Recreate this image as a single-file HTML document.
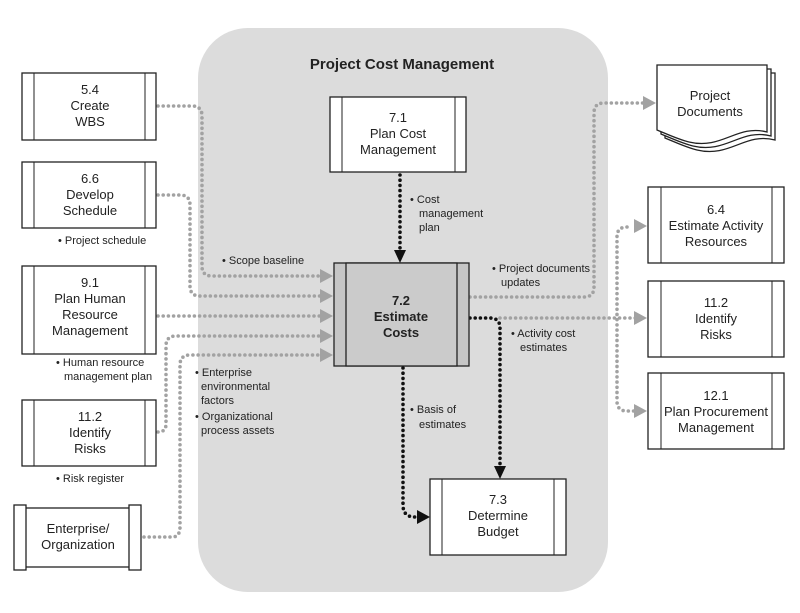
<!DOCTYPE html>
<html><head><meta charset="utf-8"><style>
html,body{margin:0;padding:0;background:#fff;}
svg{display:block;}
text{font-family:"Liberation Sans",Arial,sans-serif;fill:#222;}
.t{font-size:13px;text-anchor:middle;}
.s{font-size:11px;}
.b{fill:#fff;stroke:#222;stroke-width:1.3;}
.g{fill:none;stroke:#a2a2a2;stroke-width:3.6;stroke-dasharray:0 5.2;stroke-linecap:round;stroke-linejoin:round;}
.k{fill:none;stroke:#111;stroke-width:3.6;stroke-dasharray:0 5.2;stroke-linecap:round;stroke-linejoin:round;}
</style></head><body>
<svg width="800" height="613" viewBox="0 0 800 613" xmlns="http://www.w3.org/2000/svg">
<rect x="198" y="28" width="410" height="564" rx="50" fill="#dcdcdc"/>
<text x="402" y="69" style="font-size:15px;font-weight:bold;text-anchor:middle">Project Cost Management</text>

<path class="g" d="M158,106 H192 Q202,106 202,116 V266 Q202,276 212,276 H322"/>
<path class="g" d="M158,195 H180 Q190,195 190,205 V286 Q190,296 200,296 H322"/>
<path class="g" d="M158,316 H322"/>
<path class="g" d="M158,432 H158 Q166,432 166,424 V346 Q166,336 176,336 H322"/>
<path class="g" d="M144,537 H172 Q180,537 180,527 V365 Q180,355 190,355 H322"/>
<g fill="#a2a2a2">
<polygon points="320,269 333,276 320,283"/><polygon points="320,289 333,296 320,303"/>
<polygon points="320,309 333,316 320,323"/><polygon points="320,329 333,336 320,343"/>
<polygon points="320,348 333,355 320,362"/>
</g>
<path class="g" d="M470,297 H584 Q594,297 594,287 V113 Q594,103 604,103 H645"/>
<path class="g" d="M500,318 H636"/>
<path class="g" d="M627,227 Q617,227 617,237 V401 Q617,411 627,411 H636"/>
<g fill="#a2a2a2">
<polygon points="643,96 656,103 643,110"/><polygon points="634,219 647,226 634,233"/>
<polygon points="634,311 647,318 634,325"/><polygon points="634,404 647,411 634,418"/>
</g>
<path class="k" d="M400,175 V250"/>
<polygon points="394,250 406,250 400,263" fill="#111"/>
<path class="k" d="M470,318 H490 Q500,318 500,328 V466"/>
<polygon points="494,466 506,466 500,479" fill="#111"/>
<path class="k" d="M403,368 V505 Q403,517 415,517 H418"/>
<polygon points="417,510 430,517 417,524" fill="#111"/>

<g>
<rect class="b" x="22" y="73" width="134" height="67"/><line x1="34" y1="73" x2="34" y2="140" stroke="#222"/><line x1="145" y1="73" x2="145" y2="140" stroke="#222"/>
<text class="t" x="90" y="94">5.4</text><text class="t" x="90" y="110">Create</text><text class="t" x="90" y="126">WBS</text>
<rect class="b" x="22" y="162" width="134" height="66"/><line x1="34" y1="162" x2="34" y2="228" stroke="#222"/><line x1="145" y1="162" x2="145" y2="228" stroke="#222"/>
<text class="t" x="90" y="183">6.6</text><text class="t" x="90" y="199">Develop</text><text class="t" x="90" y="215">Schedule</text>
<text class="s" x="58" y="244">• Project schedule</text>
<rect class="b" x="22" y="266" width="134" height="88"/><line x1="34" y1="266" x2="34" y2="354" stroke="#222"/><line x1="145" y1="266" x2="145" y2="354" stroke="#222"/>
<text class="t" x="90" y="287">9.1</text><text class="t" x="90" y="303">Plan Human</text><text class="t" x="90" y="319">Resource</text><text class="t" x="90" y="335">Management</text>
<text class="s" x="56" y="366">• Human resource</text><text class="s" x="64" y="380">management plan</text>
<rect class="b" x="22" y="400" width="134" height="66"/><line x1="34" y1="400" x2="34" y2="466" stroke="#222"/><line x1="145" y1="400" x2="145" y2="466" stroke="#222"/>
<text class="t" x="90" y="421">11.2</text><text class="t" x="90" y="437">Identify</text><text class="t" x="90" y="453">Risks</text>
<text class="s" x="56" y="482">• Risk register</text>
<rect class="b" x="20" y="508" width="115" height="59"/>
<rect class="b" x="14" y="505" width="12" height="65"/><rect class="b" x="129" y="505" width="12" height="65"/>
<text class="t" x="78" y="533">Enterprise/</text><text class="t" x="78" y="549">Organization</text>
</g>

<text class="s" x="222" y="264">• Scope baseline</text>
<text class="s" x="195" y="376">• Enterprise</text><text class="s" x="201" y="390">environmental</text><text class="s" x="201" y="404">factors</text>
<text class="s" x="195" y="420">• Organizational</text><text class="s" x="201" y="434">process assets</text>
<text class="s" x="410" y="203">• Cost</text><text class="s" x="419" y="217">management</text><text class="s" x="419" y="231">plan</text>
<text class="s" x="492" y="272">• Project documents</text><text class="s" x="501" y="286">updates</text>
<text class="s" x="511" y="337">• Activity cost</text><text class="s" x="520" y="351">estimates</text>
<text class="s" x="410" y="413">• Basis of</text><text class="s" x="419" y="428">estimates</text>

<rect class="b" x="330" y="97" width="136" height="75"/><line x1="342" y1="97" x2="342" y2="172" stroke="#222"/><line x1="455" y1="97" x2="455" y2="172" stroke="#222"/>
<text class="t" x="398" y="122">7.1</text><text class="t" x="398" y="138">Plan Cost</text><text class="t" x="398" y="154">Management</text>
<rect x="334" y="263" width="135" height="103" fill="#c6c6c6" stroke="#222" stroke-width="1.3"/>
<rect x="346" y="263" width="111" height="103" fill="#cbcbcb" stroke="#222" stroke-width="1.3"/>
<text class="t" x="401" y="305" style="font-weight:bold">7.2</text><text class="t" x="401" y="321" style="font-weight:bold">Estimate</text><text class="t" x="401" y="337" style="font-weight:bold">Costs</text>
<rect class="b" x="430" y="479" width="136" height="76"/><line x1="442" y1="479" x2="442" y2="555" stroke="#222"/><line x1="554" y1="479" x2="554" y2="555" stroke="#222"/>
<text class="t" x="498" y="504">7.3</text><text class="t" x="498" y="520">Determine</text><text class="t" x="498" y="536">Budget</text>

<rect class="b" x="648" y="187" width="136" height="76"/><line x1="661" y1="187" x2="661" y2="263" stroke="#222"/><line x1="772" y1="187" x2="772" y2="263" stroke="#222"/>
<text class="t" x="716" y="214">6.4</text><text class="t" x="716" y="230">Estimate Activity</text><text class="t" x="716" y="246">Resources</text>
<rect class="b" x="648" y="281" width="136" height="76"/><line x1="661" y1="281" x2="661" y2="357" stroke="#222"/><line x1="772" y1="281" x2="772" y2="357" stroke="#222"/>
<text class="t" x="716" y="307">11.2</text><text class="t" x="716" y="323">Identify</text><text class="t" x="716" y="339">Risks</text>
<rect class="b" x="648" y="373" width="136" height="76"/><line x1="661" y1="373" x2="661" y2="449" stroke="#222"/><line x1="772" y1="373" x2="772" y2="449" stroke="#222"/>
<text class="t" x="716" y="400">12.1</text><text class="t" x="716" y="416">Plan Procurement</text><text class="t" x="716" y="432">Management</text>

<path class="b" d="M665,73 H775 V140 C745,132 730,158 697,150 C685,147 675,142 665,138 Z"/>
<path class="b" d="M661,69 H771 V136 C741,128 726,154 693,146 C681,143 671,138 661,134 Z"/>
<path class="b" d="M657,65 H767 V132 C737,124 722,150 689,142 C677,139 667,134 657,130 Z"/>
<text class="t" x="710" y="100">Project</text><text class="t" x="710" y="116">Documents</text>
</svg>
</body></html>
